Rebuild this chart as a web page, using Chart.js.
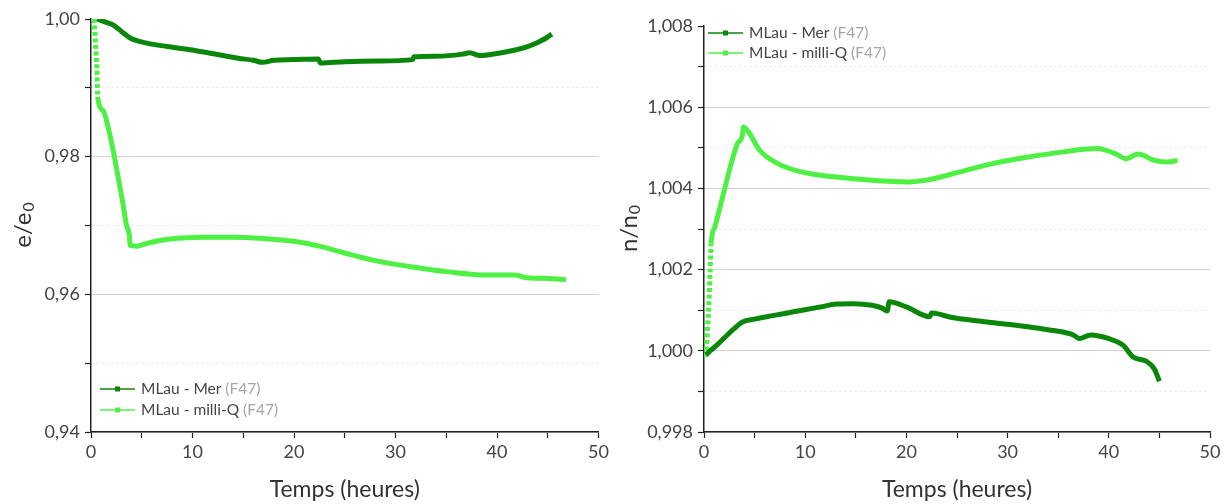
<!DOCTYPE html>
<html>
<head>
<meta charset="utf-8">
<script src="https://cdn.jsdelivr.net/npm/chart.js@4.4.0/dist/chart.umd.min.js"></script>
<style>
  body { margin: 0; background: #fff; width: 1227px; height: 504px; overflow: hidden; position: relative; }
  canvas { position: absolute; top: 0; }
  #left { left: 0; }
  #right { left: 612px; }
</style>
</head>
<body>
<canvas id="left" width="612" height="504"></canvas>
<canvas id="right" width="615" height="504"></canvas>
<script>
// time axis (heures)
const xTickValues = [0, 5, 10, 15, 20, 25, 30, 35, 40, 45, 50];
const xLabelValues = [0, 10, 20, 30, 40, 50];

// left panel : e/e0
const eTickValues = [0.94, 0.95, 0.96, 0.97, 0.98, 0.99, 1.00];
const eLabelValues = [0.94, 0.96, 0.98, 1.00];

// right panel : n/n0
const nTickValues = [0.998, 0.999, 1.000, 1.001, 1.002, 1.003, 1.004, 1.005, 1.006, 1.007, 1.008];
const nLabelValues = [0.998, 1.000, 1.002, 1.004, 1.006, 1.008];

const seriesNames = ['MLau - Mer', 'MLau - milli-Q'];
const sampleTag = '(F47)';

// MLau - Mer, e/e0
const tMerE = [0.6, 1.5, 2.2, 3.0, 3.9, 5.5, 7.5, 9.5, 11.1, 13.0, 14.5, 16.0, 16.9, 18.0, 20.0, 22.4, 22.6, 25.0, 28.4, 31.7, 31.8, 34.0, 36.6, 37.3, 38.3, 40.0, 41.8, 43.0, 44.0, 44.8, 45.4];
const eMer  = [1.0000, 0.9995, 0.9991, 0.9982, 0.9972, 0.9965, 0.9960, 0.9956, 0.9952, 0.9947, 0.9943, 0.9940, 0.9937, 0.9940, 0.9941, 0.9942, 0.9936, 0.9938, 0.9939, 0.9941, 0.9945, 0.9946, 0.9949, 0.9951, 0.9947, 0.9950, 0.9955, 0.9960, 0.9966, 0.9972, 0.9978];

// MLau - milli-Q, e/e0
const tMilliE = [0.3, 0.4, 0.5, 0.6, 0.65, 1.2, 1.7, 2.2, 2.7, 3.1, 3.5, 3.8, 3.85, 4.5, 5.5, 7.5, 9.0, 11.0, 14.0, 17.0, 20.0, 22.5, 25.0, 28.0, 32.0, 35.0, 39.0, 41.8, 42.9, 45.0, 46.8];
const eMilli  = [1.0000, 0.9975, 0.9950, 0.9920, 0.9887, 0.9867, 0.9842, 0.9808, 0.9768, 0.9736, 0.9700, 0.9683, 0.9671, 0.9670, 0.9674, 0.9680, 0.9682, 0.9683, 0.9683, 0.9681, 0.9677, 0.9670, 0.9660, 0.9649, 0.9639, 0.9633, 0.9628, 0.9628, 0.9624, 0.9623, 0.9621];

// MLau - Mer, n/n0
const tMerN = [0.2, 0.6, 1.1, 2.1, 3.0, 3.8, 5.0, 6.2, 8.0, 9.7, 11.5, 13.1, 14.8, 16.6, 17.6, 18.1, 18.3, 20.0, 22.3, 22.5, 24.5, 26.9, 29.0, 32.0, 34.5, 36.5, 37.1, 38.2, 40.0, 41.4, 42.4, 43.8, 44.5, 45.0];
const nMer  = [0.99990, 1.00000, 1.00010, 1.00034, 1.00055, 1.00071, 1.00078, 1.00084, 1.00092, 1.00100, 1.00108, 1.00115, 1.00116, 1.00112, 1.00105, 1.00098, 1.00121, 1.00108, 1.00084, 1.00093, 1.00082, 1.00074, 1.00068, 1.00059, 1.00050, 1.00039, 1.00030, 1.00039, 1.00030, 1.00014, 0.99985, 0.99973, 0.99955, 0.99925];

// MLau - milli-Q, n/n0
const tMilliN = [0.2, 0.35, 0.5, 0.6, 0.7, 1.07, 1.76, 2.77, 3.3, 3.8, 3.9, 4.5, 5.5, 7.3, 9.7, 13.1, 16.6, 20.2, 22.1, 25.2, 28.5, 32.0, 35.5, 38.9, 39.6, 40.7, 41.7, 42.9, 44.5, 45.8, 46.8];
const nMilli  = [0.99985, 1.00055, 1.00125, 1.00195, 1.00264, 1.00305, 1.00371, 1.00469, 1.00510, 1.00531, 1.00551, 1.00535, 1.00494, 1.00461, 1.00440, 1.00428, 1.00420, 1.00416, 1.00421, 1.00440, 1.00461, 1.00477, 1.00490, 1.00498, 1.00495, 1.00485, 1.00473, 1.00485, 1.00469, 1.00465, 1.00469];

const darkGreen = '#0a870a';
const lightGreen = '#4ff044';
const fontFamily = 'Lato, "DejaVu Sans", sans-serif';

function isIn(v, arr) {
    return arr.some(a => Math.abs(a - v) < 1e-9);
}

function toPoints(xs, ys) {
    return xs.map((x, i) => ({ x: x, y: ys[i] }));
}

// legend inside the plot + rotated y title with subscript
const panelDecor = {
    id: 'panelDecor',
    afterDraw(chart, args, o) {
        const ctx = chart.ctx;
        const area = chart.chartArea;

        ctx.save();
        ctx.translate(o.titleX, (area.top + area.bottom) / 2);
        ctx.rotate(-Math.PI / 2);
        ctx.fillStyle = '#333';
        ctx.textBaseline = 'middle';
        ctx.font = '24px ' + fontFamily;
        const wMain = ctx.measureText(o.title).width;
        ctx.font = '16px ' + fontFamily;
        const wSub = ctx.measureText(o.sub).width;
        const x0 = -(wMain + wSub) / 2;
        ctx.font = '24px ' + fontFamily;
        ctx.textAlign = 'left';
        ctx.fillText(o.title, x0, 0);
        ctx.font = '16px ' + fontFamily;
        ctx.fillText(o.sub, x0 + wMain + 1, 6);
        ctx.restore();

        ctx.save();
        ctx.font = '15.5px ' + fontFamily;
        ctx.textBaseline = 'middle';
        ctx.textAlign = 'left';
        chart.data.datasets.forEach((ds, i) => {
            const y = o.legendY + i * o.legendGap;
            const x = o.legendX;
            ctx.strokeStyle = ds.borderColor;
            ctx.lineWidth = 1.5;
            ctx.beginPath();
            ctx.moveTo(x, y);
            ctx.lineTo(x + 35, y);
            ctx.stroke();
            ctx.fillStyle = ds.borderColor;
            ctx.fillRect(x + 15, y - 2.5, 5, 5);
            ctx.fillStyle = '#444';
            ctx.fillText(ds.label, x + 41, y);
            const w = ctx.measureText(ds.label + ' ').width;
            ctx.fillStyle = '#a5a5a5';
            ctx.fillText(sampleTag, x + 41 + w, y);
        });
        ctx.restore();
    }
};

function dataset(label, color, pts, dottedEnd) {
    return {
        label: label,
        data: pts,
        borderColor: color,
        backgroundColor: color,
        borderWidth: 5,
        borderCapStyle: 'butt',
        pointRadius: 0,
        cubicInterpolationMode: 'monotone',
        segment: {
            borderDash: c => (c.p1.parsed.x <= dottedEnd ? [4, 2.5] : undefined)
        }
    };
}

function makePanel(canvasId, cfg) {
    return new Chart(document.getElementById(canvasId), {
        type: 'line',
        data: { datasets: cfg.datasets },
        options: {
            responsive: false,
            animation: false,
            layout: { padding: cfg.padding },
            plugins: {
                legend: { display: false },
                tooltip: { enabled: false },
                panelDecor: cfg.decor
            },
            scales: {
                x: {
                    type: 'linear',
                    min: 0,
                    max: 50,
                    afterBuildTicks: s => { s.ticks = xTickValues.map(v => ({ value: v })); },
                    afterFit: s => { s.height = 72; },
                    ticks: {
                        autoSkip: false,
                        maxRotation: 0,
                        padding: 3,
                        color: '#444',
                        font: { family: fontFamily, size: 18 },
                        callback: v => (isIn(v, xLabelValues) ? String(v) : '')
                    },
                    grid: { drawOnChartArea: false, drawTicks: true, tickLength: 6, tickColor: '#222', tickWidth: 1.2 },
                    border: { color: '#222', width: 1.5 },
                    title: {
                        display: true,
                        text: 'Temps (heures)',
                        color: '#333',
                        font: { family: fontFamily, size: 23 },
                        padding: { top: 0, bottom: 1 }
                    }
                },
                y: {
                    type: 'linear',
                    min: cfg.ticks[0],
                    max: cfg.ticks[cfg.ticks.length - 1],
                    afterBuildTicks: s => { s.ticks = cfg.ticks.map(v => ({ value: v })); },
                    afterFit: s => { s.width = cfg.axisWidth; },
                    ticks: {
                        autoSkip: false,
                        padding: 5,
                        color: '#444',
                        font: { family: fontFamily, size: 18 },
                        callback: v => (isIn(v, cfg.labels) ? v.toFixed(cfg.decimals).replace('.', ',') : '')
                    },
                    grid: {
                        color: c => {
                            if (!c.tick) return '#d0d0d0';
                            const v = c.tick.value;
                            if (Math.abs(v - cfg.ticks[cfg.ticks.length - 1]) < 1e-9) return 'rgba(0,0,0,0)';
                            return isIn(v, cfg.labels) ? '#d2d2d2' : '#e4e4e4';
                        },
                        lineWidth: 1,
                        drawTicks: true,
                        tickLength: 6,
                        tickColor: '#222',
                        tickWidth: 1.2
                    },
                    border: {
                        color: '#222',
                        width: 1.5,
                        dash: c => (c.tick && !isIn(c.tick.value, cfg.labels) ? [2, 3] : [])
                    }
                }
            }
        },
        plugins: [panelDecor]
    });
}

makePanel('left', {
    padding: { top: 19, right: 11, bottom: 0, left: 0 },
    axisWidth: 91,
    ticks: eTickValues,
    labels: eLabelValues,
    decimals: 2,
    datasets: [
        dataset(seriesNames[0], darkGreen, toPoints(tMerE, eMer), -1),
        dataset(seriesNames[1], lightGreen, toPoints(tMilliE, eMilli), 0.65)
    ],
    decor: { title: 'e/e', sub: '0', titleX: 23, legendX: 100, legendY: 389, legendGap: 21 }
});

makePanel('right', {
    padding: { top: 26, right: 17, bottom: 0, left: 0 },
    axisWidth: 92,
    ticks: nTickValues,
    labels: nLabelValues,
    decimals: 3,
    datasets: [
        dataset(seriesNames[0], darkGreen, toPoints(tMerN, nMer), -1),
        dataset(seriesNames[1], lightGreen, toPoints(tMilliN, nMilli), 0.7)
    ],
    decor: { title: 'n/n', sub: '0', titleX: 17, legendX: 96, legendY: 33, legendGap: 20 }
});
</script>
</body>
</html>
